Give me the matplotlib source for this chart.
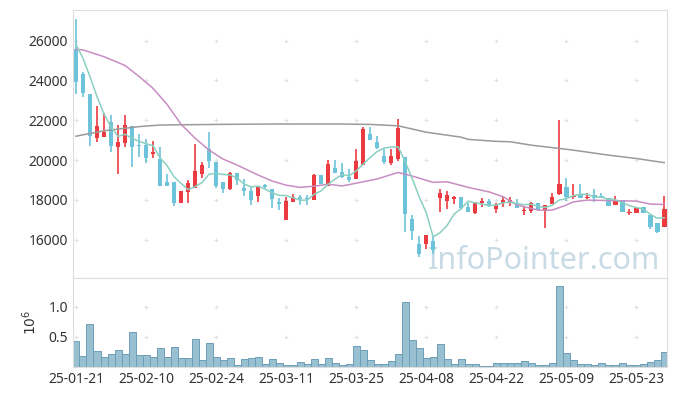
import numpy as np
import pandas as pd
import matplotlib
matplotlib.use('Agg')
import matplotlib.pyplot as plt
from matplotlib.ticker import FuncFormatter

plt.rcParams['font.family'] = ['Noto Sans', 'DejaVu Sans']

# tick labels (every 10 trading days)
tick_labels = ['25-01-21', '25-02-10', '25-02-24', '25-03-11', '25-03-25',
               '25-04-08', '25-04-22', '25-05-09', '25-05-23']

# daily prices
opens = [25600, 24300, 23300, 21120, 21170, 21900, 20670, 20870, 21700, 20770,
         20750, 20300, 20050, 18900, 18900, 17850, 18380, 18610, 19300, 20540,
         19900, 18900, 18530, 19350, 18600, 18440, 18210, 18740, 18540, 17890,
         17000, 17920, 18130, 18080, 18000, 19250, 18700, 19580, 19400, 19150,
         19060, 19760, 21320, 20890, 20200, 19850, 20070, 20130, 17050, 15810,
         15810, 15930, 18100, 17950, 18040, 18160, 17620, 17320, 17820, 17950,
         17550, 17820, 17890, 17860, 17440, 17440, 17820, 17450, 17800, 18280,
         18630, 18160, 18290, 18100, 18240, 18190, 18080, 17750, 17990, 17320,
         17350, 17620, 17240, 16820, 16650]
highs = [27100, 24420, 23320, 22700, 22350, 22260, 21760, 22260, 21720, 21290,
         21040, 20970, 20640, 19300, 18900, 18460, 19000, 20790, 19900, 21390,
         19900, 18900, 19400, 19350, 19030, 18630, 18700, 18780, 18550, 18110,
         18130, 18280, 18240, 18230, 19300, 19250, 19990, 19990, 19850, 19530,
         20550, 21680, 21640, 21210, 20540, 20550, 22050, 20140, 17240, 16180,
         16240, 16180, 18530, 18430, 18190, 18160, 17820, 17900, 18080, 18070,
         17850, 18160, 18130, 18060, 17650, 17890, 17830, 17760, 18330, 22000,
         19110, 18780, 18780, 18360, 18530, 18330, 18080, 18190, 18000, 17520,
         17610, 17630, 17240, 16830, 18190]
lows = [23300, 23150, 20700, 20920, 21170, 20420, 19280, 20670, 19630, 20170,
        19870, 20080, 18700, 18700, 17700, 17850, 17870, 18600, 19100, 19580,
        18580, 18330, 18520, 18740, 18180, 17740, 17890, 18530, 17570, 17490,
        16990, 17920, 17720, 17720, 18000, 18790, 18690, 19340, 19120, 18910,
        19050, 19760, 21000, 20580, 19800, 19750, 19970, 16370, 15980, 15140,
        15560, 15280, 17370, 17520, 17790, 17490, 17390, 17310, 17620, 17620,
        17320, 17620, 17690, 17600, 17240, 17320, 17480, 16570, 17800, 18270,
        17950, 18070, 18100, 18030, 17900, 18100, 17700, 17750, 17390, 17240,
        17350, 17320, 16520, 16320, 16650]
closes = [23900, 23350, 21200, 21700, 21420, 20720, 20900, 21760, 20640, 20700,
          20120, 20400, 18710, 18710, 17870, 18460, 18830, 19450, 19750, 19950,
          18700, 18530, 19350, 18980, 18430, 18000, 18680, 18640, 18040, 17790,
          17940, 18130, 18030, 18050, 19250, 18800, 19800, 19350, 19130, 19000,
          19950, 21560, 21020, 20590, 19900, 20200, 21610, 17300, 16420, 15280,
          16230, 15510, 18330, 18240, 18130, 17590, 17400, 17890, 17950, 17740,
          17740, 17990, 17990, 17600, 17490, 17820, 17490, 17720, 18140, 18790,
          18160, 18210, 18110, 18160, 18110, 18110, 17700, 17990, 17400, 17400,
          17600, 17350, 16650, 16400, 17540]
# closes of the 4 days before the window (for the 5-day average)
prev_closes = [26800, 25820, 26730, 25750]

volumes = [433000, 183000, 717000, 267000, 161000, 211000, 283000, 217000, 583000, 200000,
           200000, 167000, 311000, 161000, 328000, 144000, 144000, 461000, 117000, 394000,
           161000, 117000, 144000, 28000, 128000, 144000, 161000, 50000, 128000, 61000,
           28000, 28000, 78000, 50000, 128000, 50000, 144000, 61000, 28000, 50000,
           344000, 278000, 117000, 44000, 44000, 94000, 211000, 1078000, 444000, 311000,
           144000, 161000, 378000, 128000, 44000, 128000, 44000, 44000, 11000, 11000,
           61000, 61000, 61000, 61000, 94000, 61000, 28000, 28000, 61000, 1350000,
           228000, 111000, 44000, 44000, 28000, 61000, 28000, 28000, 61000, 28000,
           28000, 44000, 78000, 111000, 244000]

# 20-day average
ma20_day = [0, 1, 4, 7, 9, 11, 13, 15, 17, 19, 21, 23, 26, 28, 30, 32, 34, 36, 38,
            41, 43, 46, 48, 51, 53, 56, 59, 61, 63, 66, 68, 70, 71, 73, 78, 80, 82, 84]
ma20_val = [25560, 25530, 25190, 24750, 24200, 23600, 22800, 21800, 21100, 20500,
            20050, 19750, 19250, 18950, 18740, 18630, 18690, 18790, 18700, 18910,
            19050, 19380, 19200, 18880, 18910, 18630, 18400, 18160, 17740, 17490,
            17490, 17740, 17900, 17990, 17955, 17940, 17790, 17770]

# long average
malong_day = [0, 4, 9, 12, 20, 28, 38, 42, 46, 50, 55, 56, 60, 62, 65, 71, 76, 80, 84]
malong_val = [21200, 21470, 21680, 21760, 21790, 21810, 21810, 21790, 21720, 21400,
              21150, 21040, 20940, 20920, 20750, 20500, 20250, 20080, 19870]

RED = '#ec3b40'
BLUE = '#6cc3da'

o = np.array(opens)
h = np.array(highs)
l = np.array(lows)
c = np.array(closes)
x = np.arange(len(c))
ma5 = pd.Series(prev_closes + closes).rolling(5).mean().values[4:]

fig = plt.figure(figsize=(6.77, 3.96), dpi=100)
ax = fig.add_axes([0.1078, 0.298, 0.878, 0.677])
axv = fig.add_axes([0.1078, 0.0732, 0.878, 0.2247], sharex=ax)

# watermark
ax.text(0.987, 0.035, 'InfoPointer.com', transform=ax.transAxes, ha='right', va='baseline',
        fontsize=22, color='#c8dbe5', zorder=0)

# candles
colors = np.where(c >= o, RED, BLUE)
ax.vlines(x, l, h, colors=colors, lw=1.2, zorder=2)
ax.bar(x, np.maximum(np.abs(c - o), 45), bottom=np.minimum(o, c), width=0.66,
       color=colors, zorder=3)

# moving averages
ax.plot(malong_day, malong_val, color='#9a9a9a', lw=1.1, zorder=4)
ax.plot(ma20_day, ma20_val, color='#c88dc3', lw=1.1, zorder=4)
ax.plot(x, ma5, color='#8bcfc1', lw=1.1, zorder=4)

# volume
axv.bar(x, volumes, width=1.0, color='#98c0d1', edgecolor='#6e9fb8', lw=0.7)

xticks = np.arange(0, 81, 10)
yticks = np.arange(16000, 26001, 2000)
vticks = [500000, 1000000]

ax.set_xlim(-0.43, 84.45)
ax.set_ylim(14080, 27540)
ax.set_yticks(yticks)
axv.set_ylim(0, 1478000)
axv.set_yticks(vticks)
axv.yaxis.set_major_formatter(FuncFormatter(lambda v, p: f'{v / 1e6:.1f}'))
axv.set_xticks(xticks)
axv.set_xticklabels(tick_labels)
axv.set_ylabel('$10^6$', fontsize=10, color='#333333', labelpad=6)

# small "+" marks at tick crossings
gx, gy = np.meshgrid(xticks, yticks)
ax.scatter(gx.ravel(), gy.ravel(), marker='+', s=12, color='#e2e2e2', lw=0.8, zorder=1)
gx, gy = np.meshgrid(xticks, vticks)
axv.scatter(gx.ravel(), gy.ravel(), marker='+', s=12, color='#e2e2e2', lw=0.8, zorder=1)

for a in (ax, axv):
    for s in a.spines.values():
        s.set_color('#dddddd')
    a.tick_params(length=0, labelsize=10, labelcolor='#333333')
ax.tick_params(labelbottom=False)

fig.savefig('out.png', dpi=100)
